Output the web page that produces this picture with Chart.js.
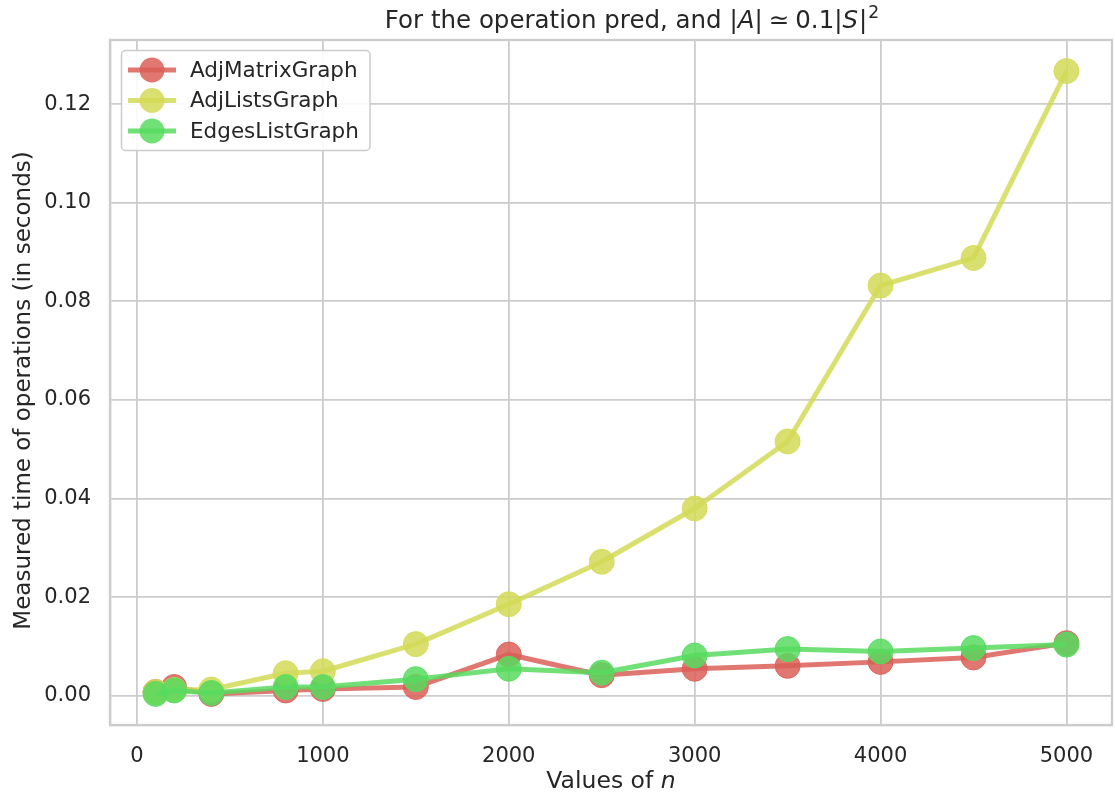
<!DOCTYPE html>
<html>
<head>
<meta charset="utf-8">
<title>pred timing</title>
<script src="https://cdn.jsdelivr.net/npm/chart.js@4.4.0/dist/chart.umd.min.js"></script>
<style>
  html, body { margin: 0; padding: 0; background: #ffffff; }
  #wrap { width: 1115px; height: 797px; }
</style>
</head>
<body>
<div id="wrap"><canvas id="c" width="1115" height="797"></canvas></div>
<script>
// Graph sizes n used in the benchmark
const nValues = [100, 200, 400, 800, 1000, 1500, 2000, 2500, 3000, 3500, 4000, 4500, 5000];

// Measured time (seconds) of the pred operation, one list per implementation
const adjMatrixTimes = [0.0008, 0.0018, 0.0004, 0.0011, 0.0014, 0.0018, 0.0084, 0.0042, 0.0055, 0.0061, 0.0069, 0.0078, 0.0107];
const adjListsTimes  = [0.0008, 0.0012, 0.0013, 0.0046, 0.0050, 0.0105, 0.0186, 0.0272, 0.0380, 0.0516, 0.0832, 0.0888, 0.1267];
const edgesListTimes = [0.0004, 0.0011, 0.0006, 0.0018, 0.0018, 0.0034, 0.0055, 0.0047, 0.0082, 0.0095, 0.0090, 0.0097, 0.0104];

const seriesNames = ['AdjMatrixGraph', 'AdjListsGraph', 'EdgesListGraph'];

// Tick labels
const xTicks = [0, 1000, 2000, 3000, 4000, 5000];
const yTicks = [0.00, 0.02, 0.04, 0.06, 0.08, 0.10, 0.12];

const FONT = '"DejaVu Sans", "Liberation Sans", sans-serif';
const TEXT = '#262626';
const GRID = '#cccccc';
const COLORS = ['rgba(219,95,87,0.85)', 'rgba(211,219,87,0.85)', 'rgba(87,219,95,0.85)'];

function points(values) {
  return nValues.map((n, i) => ({ x: n, y: values[i] }));
}

function makeDataset(label, values, color, order) {
  return {
    label: label,
    data: points(values),
    borderColor: color,
    backgroundColor: color,
    borderWidth: 5,
    borderJoinStyle: 'round',
    pointRadius: 12.5,
    pointHoverRadius: 12.5,
    pointBorderWidth: 1,
    pointBorderColor: color,
    pointBackgroundColor: color,
    tension: 0,
    fill: false,
    order: order
  };
}

// Draws text made of runs (normal / italic / superscript / extra gap), centred on cx
function drawRuns(ctx, runs, cx, baseline, size) {
  const fontFor = r => (r.italic ? 'oblique ' : '') + (r.sup ? size * 0.7 : size) + 'px ' + FONT;
  const widthOf = r => { ctx.font = fontFor(r); return ctx.measureText(r.t).width + (r.gap || 0) * 2; };
  const total = runs.reduce((s, r) => s + widthOf(r), 0);
  let x = cx - total / 2;
  ctx.textAlign = 'left';
  ctx.textBaseline = 'alphabetic';
  runs.forEach(r => {
    const w = widthOf(r);
    ctx.font = fontFor(r);
    ctx.fillText(r.t, x + (r.gap || 0), r.sup ? baseline - size * 0.42 : baseline);
    x += w;
  });
}

const decorations = {
  id: 'decorations',
  afterDatasetsDraw(chart) {
    const { ctx, chartArea: a } = chart;
    ctx.save();
    ctx.strokeStyle = GRID;
    ctx.lineWidth = 2.3;
    ctx.strokeRect(a.left, a.top, a.right - a.left, a.bottom - a.top);
    ctx.restore();
  },
  afterDraw(chart) {
    const { ctx, chartArea: a } = chart;
    const cx = (a.left + a.right) / 2;
    ctx.save();
    ctx.fillStyle = TEXT;

    // Title
    drawRuns(ctx, [
      { t: 'For the operation pred, and ' },
      { t: '|' }, { t: 'A', italic: true }, { t: '|' },
      { t: '\u2243', gap: 6 }, { t: '0.1|' },
      { t: 'S', italic: true }, { t: '|', gap: 1 }, { t: '2', sup: true }
    ], cx + 21, 28, 24.5);

    // X axis label
    drawRuns(ctx, [{ t: 'Values of ' }, { t: 'n', italic: true }], cx, 788, 23.5);

    // Y axis label
    ctx.save();
    ctx.translate(30, (a.top + a.bottom) / 2 + 8);
    ctx.rotate(-Math.PI / 2);
    ctx.font = '23px ' + FONT;
    ctx.textAlign = 'center';
    ctx.textBaseline = 'alphabetic';
    ctx.fillText('Measured time of operations (in seconds)', 0, 0);
    ctx.restore();

    // Legend
    const bx = 121.5, by = 50.5, bw = 248.5, bh = 100;
    ctx.beginPath();
    ctx.roundRect(bx, by, bw, bh, 4);
    ctx.fillStyle = 'rgba(255,255,255,0.9)';
    ctx.fill();
    ctx.strokeStyle = GRID;
    ctx.lineWidth = 1.5;
    ctx.stroke();

    chart.data.datasets.forEach((ds, i) => {
      const y = 70 + i * 30.5;
      ctx.strokeStyle = ds.borderColor;
      ctx.lineWidth = 5;
      ctx.lineCap = 'butt';
      ctx.beginPath();
      ctx.moveTo(128, y);
      ctx.lineTo(176, y);
      ctx.stroke();
      ctx.fillStyle = ds.backgroundColor;
      ctx.beginPath();
      ctx.arc(152, y, 12.5, 0, Math.PI * 2);
      ctx.fill();
      ctx.fillStyle = TEXT;
      ctx.font = '21.5px ' + FONT;
      ctx.textAlign = 'left';
      ctx.textBaseline = 'middle';
      ctx.fillText(ds.label, 190, y + 1);
    });
    ctx.restore();
  }
};

new Chart(document.getElementById('c'), {
  type: 'line',
  data: {
    datasets: [
      makeDataset(seriesNames[0], adjMatrixTimes, COLORS[0], 3),
      makeDataset(seriesNames[1], adjListsTimes, COLORS[1], 2),
      makeDataset(seriesNames[2], edgesListTimes, COLORS[2], 1)
    ]
  },
  options: {
    responsive: false,
    devicePixelRatio: 1,
    animation: false,
    layout: { autoPadding: false, padding: { top: 40, right: 3, left: 0, bottom: 0 } },
    plugins: {
      legend: { display: false },
      title: { display: false },
      tooltip: { enabled: false }
    },
    scales: {
      x: {
        type: 'linear',
        min: -145,
        max: 5245,
        afterFit(scale) {
          scale.height = 72;
          scale.paddingLeft = 0;
          scale.paddingRight = 0;
        },
        afterBuildTicks(scale) { scale.ticks = xTicks.map(v => ({ value: v })); },
        ticks: {
          padding: 19,
          color: TEXT,
          font: { family: FONT, size: 21 },
          maxRotation: 0,
          autoSkip: false,
          callback: v => String(v)
        },
        grid: { color: GRID, lineWidth: 1.8, drawTicks: false },
        border: { display: true, color: GRID, width: 2.3 }
      },
      y: {
        type: 'linear',
        min: -0.0059,
        max: 0.1330,
        afterFit(scale) {
          scale.width = 110;
          scale.paddingTop = 0;
          scale.paddingBottom = 0;
        },
        afterBuildTicks(scale) { scale.ticks = yTicks.map(v => ({ value: v })); },
        ticks: {
          padding: 19,
          color: TEXT,
          font: { family: FONT, size: 21 },
          autoSkip: false,
          callback: v => v.toFixed(2)
        },
        grid: { color: GRID, lineWidth: 1.8, drawTicks: false },
        border: { display: true, color: GRID, width: 2.3 }
      }
    }
  },
  plugins: [decorations]
});
</script>
</body>
</html>
